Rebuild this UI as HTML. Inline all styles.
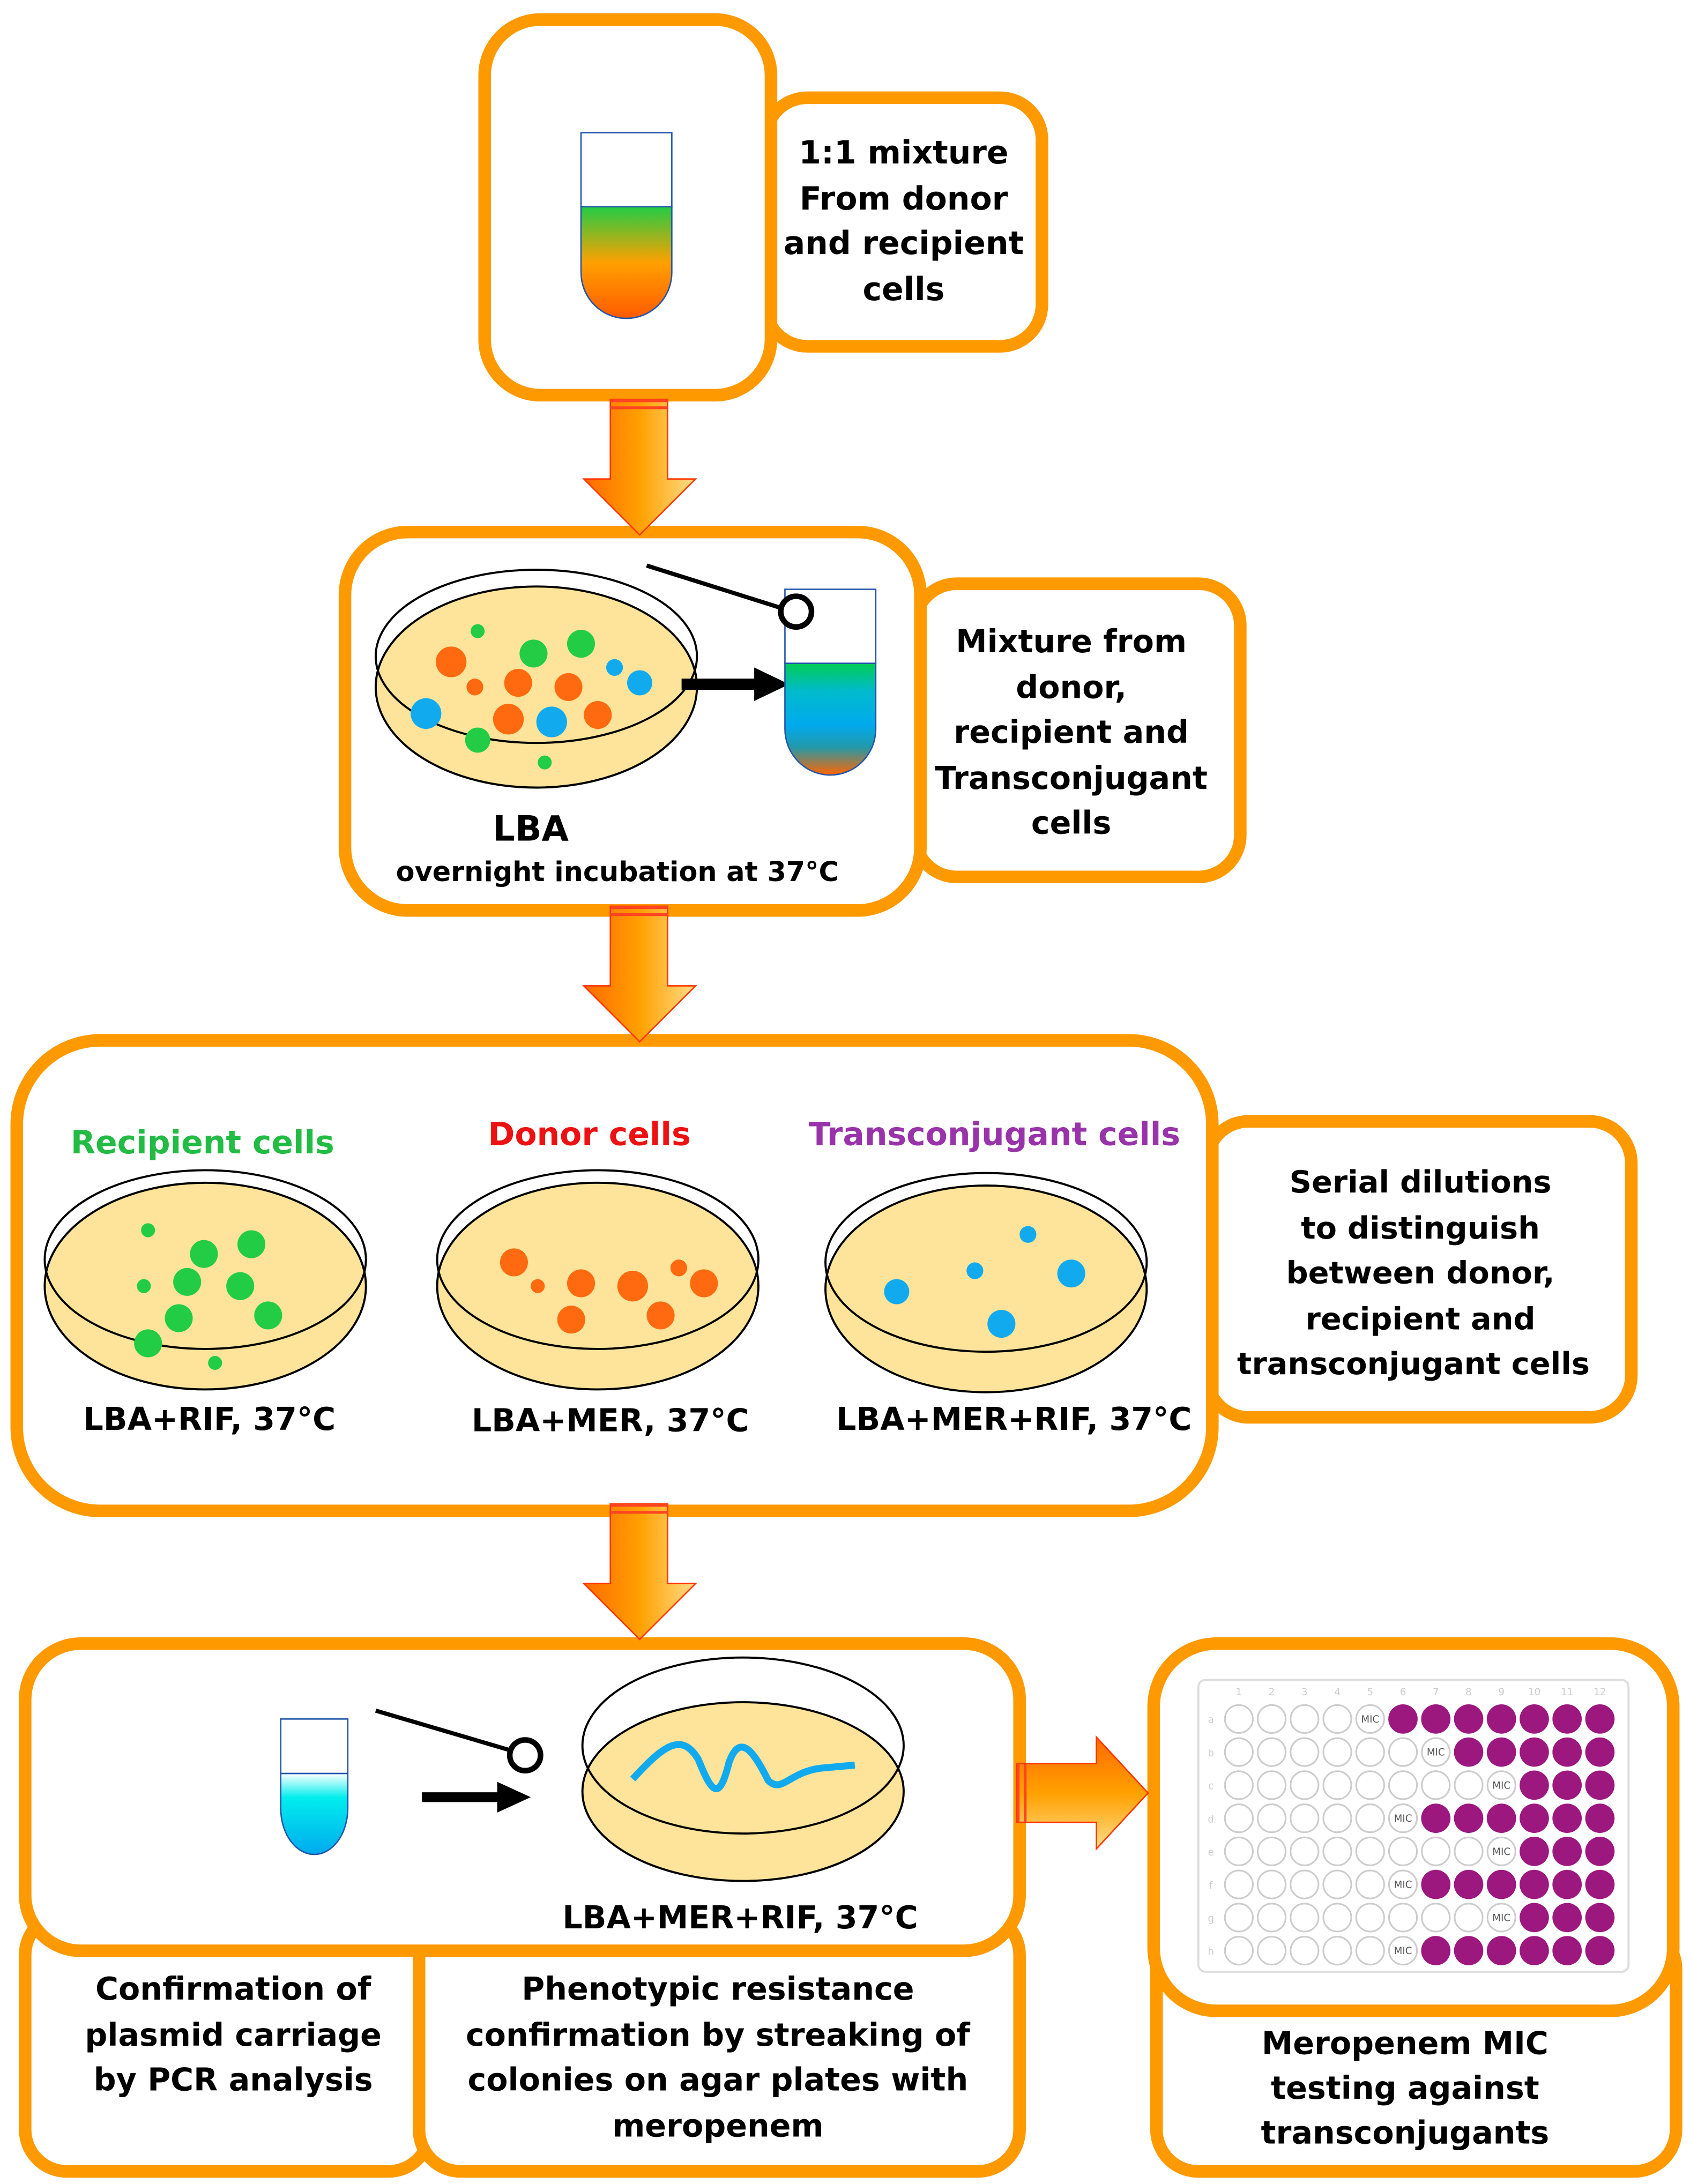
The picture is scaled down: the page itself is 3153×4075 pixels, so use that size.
<!DOCTYPE html>
<html><head><meta charset="utf-8"><style>
html,body{margin:0;padding:0;background:#fff}
svg{display:block}
text{font-family:"DejaVu Sans","Liberation Sans",sans-serif;font-weight:bold;text-anchor:middle}
</style></head><body>
<svg id="s" width="3153" height="4075" viewBox="0 0 1210 1564" preserveAspectRatio="none" xmlns="http://www.w3.org/2000/svg">
<defs>
<linearGradient id="t1" x1="0" y1="0" x2="0" y2="1"><stop offset="0" stop-color="#22cc44"/><stop offset="0.5" stop-color="#ffa000"/><stop offset="1" stop-color="#ff5a00"/></linearGradient>
<linearGradient id="t2" x1="0" y1="0" x2="0" y2="1"><stop offset="0" stop-color="#00cc55"/><stop offset="0.25" stop-color="#00bbcc"/><stop offset="0.55" stop-color="#00aaee"/><stop offset="0.75" stop-color="#2299aa"/><stop offset="1" stop-color="#ff6600"/></linearGradient>
<linearGradient id="t3" x1="0" y1="0" x2="0" y2="1"><stop offset="0" stop-color="#fff"/><stop offset="0.3" stop-color="#00eeee"/><stop offset="1" stop-color="#00aaee"/></linearGradient>
<linearGradient id="ar" x1="0" y1="0" x2="1" y2="0"><stop offset="0" stop-color="#ff6a00"/><stop offset="0.5" stop-color="#ffa000"/><stop offset="1" stop-color="#ffdd88"/></linearGradient>
<linearGradient id="arh" x1="0" y1="0" x2="0" y2="1"><stop offset="0" stop-color="#ff6a00"/><stop offset="0.5" stop-color="#ffa000"/><stop offset="1" stop-color="#ffdd88"/></linearGradient>
</defs>
<g fill="#fff" stroke="#ff9900" stroke-width="9">
<rect x="548" y="70" width="198" height="178" rx="30"/>
<rect x="347" y="14" width="205" height="269" rx="40"/>
<rect x="655" y="418" width="233" height="210" rx="30"/>
<rect x="247" y="381" width="412" height="271" rx="45"/>
<rect x="864" y="803" width="304" height="212" rx="30"/>
<rect x="12" y="745" width="856" height="337" rx="60"/>
<rect x="18" y="1370" width="290" height="185" rx="30"/>
<rect x="300" y="1370" width="430" height="185" rx="30"/>
<rect x="18" y="1177" width="712" height="220" rx="40"/>
<rect x="828" y="1380" width="372" height="175" rx="30"/>
<rect x="826" y="1177" width="372" height="263" rx="45"/>
</g>
<g stroke="#ff3300" stroke-width="1">
<path d="M437 286H478V343H498L458 383L418 343H437Z" fill="url(#ar)"/>
<path d="M437 649H478V706H498L458 746L418 706H437Z" fill="url(#ar)"/>
<path d="M437 1077H478V1134H498L458 1174L418 1134H437Z" fill="url(#ar)"/>
<path d="M728 1263H785V1244L822 1284L785 1324V1305H728Z" fill="url(#arh)"/>
</g>
<g fill="#ff4422"><rect x="437" y="286" width="41" height="2"/><rect x="437" y="291" width="41" height="2"/><rect x="437" y="649" width="41" height="2"/><rect x="437" y="654" width="41" height="2"/><rect x="437" y="1077" width="41" height="2"/><rect x="437" y="1082" width="41" height="2"/><rect x="728" y="1263" width="2" height="42"/><rect x="733" y="1263" width="2" height="42"/></g>
<path d="M416 148H481V195A32.5 33 0 0 1 416 195Z" fill="url(#t1)" stroke="#2255aa" stroke-width="1"/>
<rect x="416" y="95" width="65" height="53" fill="#fff" stroke="#2255aa" stroke-width="1"/>
<g font-size="23" fill="#000"><text x="647" y="117">1:1 mixture</text><text x="647" y="150">From donor</text><text x="647" y="182">and recipient</text><text x="647" y="215">cells</text></g>
<ellipse cx="384" cy="492" rx="115" ry="72" fill="#fde49a" stroke="#000" stroke-width="1.5"/>
<ellipse cx="384" cy="470" rx="115" ry="62" fill="none" stroke="#000" stroke-width="1.5"/>
<g fill="#22cc44"><circle cx="342" cy="452" r="5"/><circle cx="382" cy="468" r="10"/><circle cx="416" cy="461" r="10"/><circle cx="342" cy="530" r="9"/><circle cx="390" cy="546" r="5"/></g>
<g fill="#ff6a10"><circle cx="323" cy="474" r="11"/><circle cx="340" cy="492" r="6"/><circle cx="371" cy="489" r="10"/><circle cx="407" cy="492" r="10"/><circle cx="364" cy="515" r="11"/><circle cx="428" cy="512" r="10"/></g>
<g fill="#11aaee"><circle cx="440" cy="478" r="6"/><circle cx="458" cy="489" r="9"/><circle cx="305" cy="511" r="11"/><circle cx="395" cy="517" r="11"/></g>
<path d="M488 490H545" stroke="#000" stroke-width="8"/><path d="M540 478L565 490L540 502Z"/>
<path d="M562 475H627V522A32.5 33 0 0 1 562 522Z" fill="url(#t2)" stroke="#2255aa" stroke-width="1"/>
<rect x="562" y="422" width="65" height="53" fill="#fff" stroke="#2255aa" stroke-width="1"/>
<path d="M463 405L558 435" stroke="#000" stroke-width="3"/><circle cx="570" cy="438" r="11" fill="#fff" stroke="#000" stroke-width="4"/>
<text x="380" y="602" font-size="25">LBA</text>
<text x="442" y="631" font-size="19.5">overnight incubation at 37°C</text>
<g font-size="22.5"><text x="767" y="467">Mixture from</text><text x="767" y="500">donor,</text><text x="767" y="532">recipient and</text><text x="767" y="565">Transconjugant</text><text x="767" y="597">cells</text></g>
<text x="145" y="826" font-size="23" fill="#22bb44">Recipient cells</text>
<text x="422" y="820" font-size="23" fill="#ee1111">Donor cells</text>
<text x="712" y="820" font-size="23" fill="#9933aa">Transconjugant cells</text>
<g fill="#fde49a" stroke="#000" stroke-width="1.5">
<ellipse cx="147" cy="921" rx="115" ry="74"/><ellipse cx="428" cy="921" rx="115" ry="74"/><ellipse cx="706" cy="923" rx="115" ry="74"/></g>
<g fill="none" stroke="#000" stroke-width="1.5">
<ellipse cx="147" cy="902" rx="115" ry="64"/><ellipse cx="428" cy="902" rx="115" ry="64"/><ellipse cx="706" cy="904" rx="115" ry="64"/></g>
<g fill="#22cc44"><circle cx="106" cy="881" r="5"/><circle cx="146" cy="898" r="10"/><circle cx="180" cy="891" r="10"/><circle cx="103" cy="921" r="5"/><circle cx="134" cy="918" r="10"/><circle cx="172" cy="921" r="10"/><circle cx="128" cy="944" r="10"/><circle cx="192" cy="942" r="10"/><circle cx="106" cy="962" r="10"/><circle cx="154" cy="976" r="5"/></g>
<g fill="#ff6a10"><circle cx="368" cy="904" r="10"/><circle cx="385" cy="921" r="5"/><circle cx="416" cy="919" r="10"/><circle cx="453" cy="921" r="11"/><circle cx="486" cy="908" r="6"/><circle cx="504" cy="919" r="10"/><circle cx="409" cy="945" r="10"/><circle cx="473" cy="942" r="10"/></g>
<g fill="#11aaee"><circle cx="736" cy="884" r="6"/><circle cx="698" cy="910" r="6"/><circle cx="767" cy="912" r="10"/><circle cx="642" cy="925" r="9"/><circle cx="717" cy="948" r="10"/></g>
<g font-size="22.5"><text x="150" y="1024">LBA+RIF, 37°C</text><text x="437" y="1025">LBA+MER, 37°C</text><text x="726" y="1024">LBA+MER+RIF, 37°C</text></g>
<g font-size="22"><text x="1017" y="854">Serial dilutions</text><text x="1017" y="887">to distinguish</text><text x="1017" y="919">between donor,</text><text x="1017" y="952">recipient and</text><text x="1012" y="984">transconjugant cells</text></g>
<path d="M201 1270H249V1295A24 33 0 0 1 201 1295Z" fill="url(#t3)" stroke="#2255aa" stroke-width="1"/>
<rect x="201" y="1231" width="48" height="39" fill="#fff" stroke="#2255aa" stroke-width="1"/>
<path d="M269 1225L364 1253" stroke="#000" stroke-width="3"/><circle cx="376" cy="1257" r="11" fill="#fff" stroke="#000" stroke-width="4"/>
<path d="M302 1287H360" stroke="#000" stroke-width="7"/><path d="M356 1276L380 1287L356 1298Z"/>
<ellipse cx="532" cy="1283" rx="115" ry="64" fill="#fde49a" stroke="#000" stroke-width="1.5"/>
<ellipse cx="532" cy="1250" rx="115" ry="63" fill="none" stroke="#000" stroke-width="1.5"/>
<path d="M453 1274C475 1250 488 1240 500 1260C510 1285 515 1290 522 1262C530 1240 540 1255 550 1275C560 1285 565 1268 590 1266L612 1264" fill="none" stroke="#11aaee" stroke-width="5"/>
<text x="530" y="1381" font-size="22.5">LBA+MER+RIF, 37°C</text>
<g font-size="22.5"><text x="167" y="1432">Confirmation of</text><text x="167" y="1465">plasmid carriage</text><text x="167" y="1497">by PCR analysis</text>
<text x="514" y="1432">Phenotypic resistance</text><text x="514" y="1465">confirmation by streaking of</text><text x="514" y="1497">colonies on agar plates with</text><text x="514" y="1530">meropenem</text>
<text x="1006" y="1471">Meropenem MIC</text><text x="1006" y="1503">testing against</text><text x="1006" y="1535">transconjugants</text></g>
<rect x="858" y="1203" width="308" height="209" rx="5" fill="#fff" stroke="#ddd" stroke-width="1.5"/>
<g id="wells"></g>
</svg>
<script>
var g=document.getElementById('wells'),ns='http://www.w3.org/2000/svg';
var mic=[5,7,9,6,9,6,9,6],rows='abcdefgh';
function el(n,a,t){var e=document.createElementNS(ns,n);for(var k in a)e.setAttribute(k,a[k]);if(t)e.textContent=t;g.appendChild(e);return e;}
for(var c=1;c<=12;c++)el('text',{x:887+(c-1)*23.5,y:1214,'font-size':7,fill:'#ccc',style:'font-weight:normal'},''+c);
for(var r=0;r<8;r++){var y=1231+r*23.7;el('text',{x:867,y:y+3,'font-size':7,fill:'#ccc',style:'font-weight:normal'},rows[r]);
for(var c=1;c<=12;c++){var x=887+(c-1)*23.5;
if(c>mic[r])el('circle',{cx:x,cy:y,r:10.5,fill:'#9c177e'});
else{el('circle',{cx:x,cy:y,r:10,fill:'#fff',stroke:'#ccc','stroke-width':1.2});
if(c==mic[r])el('text',{x:x,y:y+2.5,'font-size':7,fill:'#555',style:'font-weight:normal'},'MIC');}}}
</script>
</body></html>
